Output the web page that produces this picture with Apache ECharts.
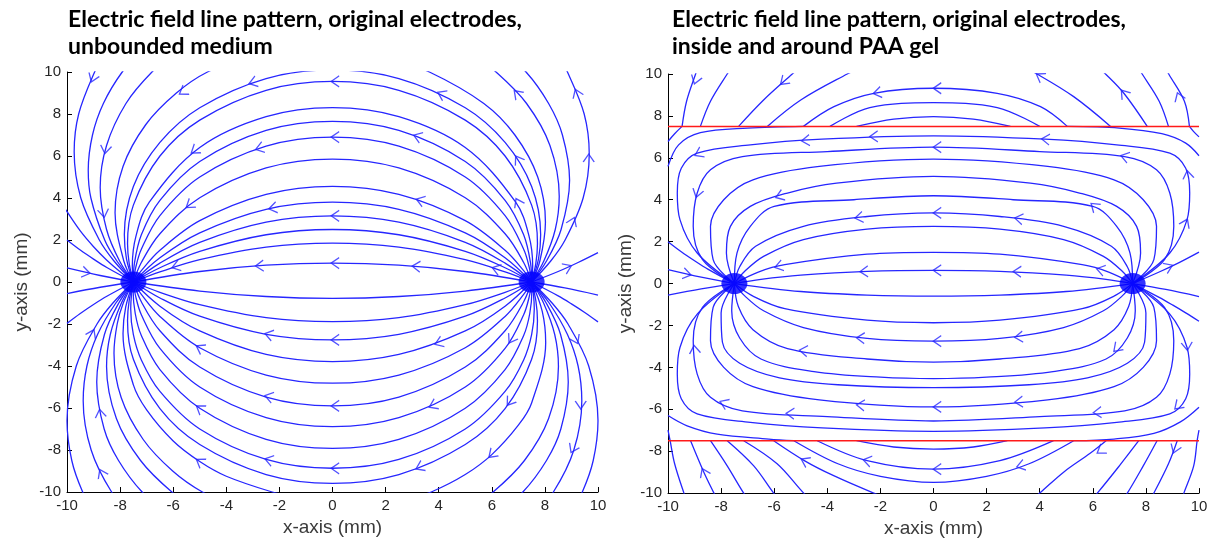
<!DOCTYPE html>
<html>
<head>
<meta charset="utf-8">
<script src="https://cdn.jsdelivr.net/npm/echarts/dist/echarts.min.js"></script>
<style>html,body{margin:0;padding:0;background:#fff;}#c{width:1211px;height:543px;}</style>
</head>
<body>
<div id="c"></div>
<script>
// ---------- DATA ----------
const tickValues = [-10, -8, -6, -4, -2, 0, 2, 4, 6, 8, 10];
const titles = [
  'Electric field line pattern, original electrodes,\nunbounded medium',
  'Electric field line pattern, original electrodes,\ninside and around PAA gel'
];
const electrodes = [[-7.5, 0], [7.5, 0]];
const gelBoundaryY = [7.5, -7.5];

// Left panel: field lines above the electrode axis, between the electrodes
const leftUpperArcs = [
  [[-7.5,0],[-5,0.5],[-2.5,0.8],[0,0.9],[2.5,0.8],[5,0.5],[7.5,0]],
  [[-7.5,0],[-6.5,0.48],[-5,1.06],[-2.5,1.66],[0,1.85],[2.5,1.66],[5,1.06],[6.5,0.48],[7.5,0]],
  [[-7.5,0],[-6.5,0.68],[-5,1.46],[-2.5,2.25],[0,2.5],[2.5,2.25],[5,1.46],[6.5,0.68],[7.5,0]],
  [[-7.5,0],[-6.5,0.9],[-5,1.89],[-2.5,2.85],[0,3.15],[2.5,2.85],[5,1.89],[6.5,0.9],[7.5,0]],
  [[-7.5,0],[-6.5,1.15],[-5,2.34],[-2.5,3.46],[0,3.8],[2.5,3.46],[5,2.34],[6.5,1.15],[7.5,0]],
  [[-7.5,0],[-7.2,0.54],[-6.5,1.51],[-5,2.92],[-2.5,4.17],[0,4.55],[2.5,4.17],[5,2.92],[6.5,1.51],[7.2,0.54],[7.5,0]],
  [[-7.5,0],[-7.2,0.93],[-6.5,2.3],[-5,4.01],[-2.5,5.43],[0,5.85],[2.5,5.43],[5,4.01],[6.5,2.3],[7.2,0.93],[7.5,0]],
  [[-7.5,0],[-7.41,0.7],[-7.2,1.56],[-6.5,3.16],[-5,5.0],[-2.5,6.47],[0,6.9],[2.5,6.47],[5,5.0],[6.5,3.16],[7.2,1.56],[7.41,0.7],[7.5,0]],
  [[-7.5,0],[-7.46,0.9],[-7.2,2.25],[-6.5,3.89],[-5,5.74],[-2.5,7.22],[0,7.65],[2.5,7.22],[5,5.74],[6.5,3.89],[7.2,2.25],[7.46,0.9],[7.5,0]],
  [[-7.5,0],[-7.54,0.76],[-7.4,2.2],[-6.9,3.8],[-5,6.4],[-2.5,7.87],[0,8.3],[2.5,7.87],[5,6.4],[6.9,3.8],[7.4,2.2],[7.54,0.76],[7.5,0]],
  [[-7.5,0],[-7.66,0.9],[-7.72,1.83],[-7.5,3.66],[-6.5,6.0],[-5,7.71],[-2.5,9.13],[0,9.55],[2.5,9.13],[5,7.71],[6.5,6.0],[7.5,3.66],[7.72,1.83],[7.66,0.9],[7.5,0]],
  [[-7.5,0],[-7.76,1.1],[-7.84,2.26],[-7.5,4.55],[-6.5,6.65],[-5,8.3],[-2.5,9.69],[0,10.1],[2.5,9.69],[5,8.3],[6.5,6.65],[7.5,4.55],[7.84,2.26],[7.76,1.1],[7.5,0]]
];
// Left panel: field lines below the electrode axis, between the electrodes
const leftLowerArcs = [
  [[-7.5,0],[-5,-0.43],[-2.5,-0.69],[0,-0.78],[2.5,-0.69],[5,-0.43],[7.5,0]],
  [[-7.5,0],[-6.5,-0.49],[-5,-1.08],[-2.5,-1.7],[0,-1.89],[2.5,-1.7],[5,-1.08],[6.5,-0.49],[7.5,0]],
  [[-7.5,0],[-6.5,-0.76],[-5,-1.63],[-2.5,-2.49],[0,-2.76],[2.5,-2.49],[5,-1.63],[6.5,-0.76],[7.5,0]],
  [[-7.5,0],[-6.5,-1.15],[-5,-2.33],[-2.5,-3.45],[0,-3.79],[2.5,-3.45],[5,-2.33],[6.5,-1.15],[7.5,0]],
  [[-7.5,0],[-7.2,-0.59],[-6.5,-1.64],[-5,-3.13],[-2.5,-4.43],[0,-4.82],[2.5,-4.43],[5,-3.13],[6.5,-1.64],[7.2,-0.59],[7.5,0]],
  [[-7.5,0],[-7.2,-0.94],[-6.5,-2.32],[-5,-4.05],[-2.5,-5.48],[0,-5.9],[2.5,-5.48],[5,-4.05],[6.5,-2.32],[7.2,-0.94],[7.5,0]],
  [[-7.5,0],[-7.41,-0.7],[-7.2,-1.56],[-6.5,-3.16],[-5,-5.0],[-2.5,-6.46],[0,-6.89],[2.5,-6.46],[5,-5.0],[6.5,-3.16],[7.2,-1.56],[7.41,-0.7],[7.5,0]],
  [[-7.5,0],[-7.51,-0.41],[-7.43,-1.5],[-7.2,-2.55],[-6.5,-4.17],[-5,-6.01],[-2.5,-7.49],[0,-7.92],[2.5,-7.49],[5,-6.01],[6.5,-4.17],[7.2,-2.55],[7.43,-1.5],[7.51,-0.41],[7.5,0]],
  [[-7.5,0],[-7.57,-0.6],[-7.6,-1.27],[-7.5,-2.51],[-7.2,-3.71],[-6.5,-5.21],[-5,-7.0],[-2.5,-8.45],[0,-8.87],[2.5,-8.45],[5,-7.0],[6.5,-5.21],[7.2,-3.71],[7.5,-2.51],[7.6,-1.27],[7.57,-0.6],[7.5,0]],
  [[-7.5,0],[-7.66,-0.9],[-7.72,-1.84],[-7.5,-3.68],[-6.5,-6.03],[-5,-7.74],[-2.5,-9.17],[0,-9.59],[2.5,-9.17],[5,-7.74],[6.5,-6.03],[7.5,-3.68],[7.72,-1.84],[7.66,-0.9],[7.5,0]]
];
// Left panel: lines leaving the electrodes towards the plot edges
const leftOuterLines = [
  [[-7.5,0],[-8.23,1],[-8.78,2],[-9.48,4],[-9.73,6.2],[-9.56,8],[-8.96,10],[-8.6,10.8]],
  [[-7.5,0],[-8.12,1],[-8.58,2],[-9.1,4],[-9.2,5.32],[-9.04,7],[-8.63,8.5],[-7.92,10],[-7.3,10.8]],
  [[-7.5,0],[-8.02,1],[-8.51,2.5],[-8.75,4.5],[-8.51,6.5],[-7.78,8.5],[-6.8,10],[-5.85,11]],
  [[-7.5,0],[-7.86,1],[-8.19,3.3],[-7.89,5.5],[-7.03,7.5],[-5.88,9],[-4.71,10],[-2.72,11]],
  [[-7.5,0],[-8,0.49],[-8.5,1.04],[-9,1.68],[-9.5,2.43],[-10,3.35],[-10.3,3.95]],
  [[-7.5,0],[-8.5,0.69],[-9,1.09],[-9.5,1.52],[-10,2.0]],
  [[-7.5,0],[-8.75,0.31],[-10,0.67]],
  [[7.5,0],[7.81,1],[8.02,2.85],[7.73,5],[6.87,7],[5.7,8.5],[3.65,10],[2.2,10.6]],
  [[7.5,0],[7.96,1],[8.39,2.5],[8.54,4.08],[8.19,6.5],[7.31,8.5],[6.16,10],[5.2,10.9]],
  [[7.5,0],[8.06,1],[8.61,2.5],[8.93,4.84],[8.66,7],[8.14,8.5],[7.29,10],[6.5,10.8]],
  [[7.5,0],[8.22,1],[8.76,2],[9.44,4],[9.67,6.1],[9.48,8],[8.85,10],[8.5,10.8]],
  [[7.5,0],[8.5,0.5],[9.25,0.93],[10,1.4]],
  [[-7.5,0],[-8.75,-0.25],[-10,-0.55]],
  [[-7.5,0],[-8.5,-0.68],[-9,-1.07],[-9.5,-1.5],[-10,-1.97]],
  [[7.5,0],[8.75,-0.28],[10,-0.62]],
  [[7.5,0],[8.5,-0.66],[9,-1.04],[9.5,-1.45],[10,-1.9]],
  [[-7.5,0],[-8.27,-1],[-8.87,-2],[-9.65,-4],[-10,-6.61],[-9.82,-8.5],[-9.41,-10],[-9.1,-10.6]],
  [[-7.5,0],[-8.16,-1],[-8.85,-2.5],[-9.25,-4],[-9.39,-5.65],[-9.09,-8],[-8.32,-10],[-7.8,-10.6]],
  [[-7.5,0],[-8.05,-1],[-8.59,-2.5],[-8.88,-4.76],[-8.6,-7],[-8.06,-8.5],[-7.17,-10],[-6.5,-10.6]],
  [[-7.5,0],[-7.95,-1],[-8.37,-2.5],[-8.51,-4.02],[-8.14,-6.5],[-7.23,-8.5],[-6.05,-10],[-5.2,-10.7]],
  [[-7.5,0],[-7.88,-1],[-8.11,-2],[-8.23,-3.39],[-7.96,-5.5],[-7.13,-7.5],[-6.02,-9],[-4.9,-10],[-3.5,-10.8]],
  [[7.5,0],[8.27,-1],[8.87,-2],[9.65,-4],[10,-6.61],[9.82,-8.5],[9.41,-10],[9.1,-10.6]],
  [[7.5,0],[8.16,-1],[8.85,-2.5],[9.25,-4],[9.39,-5.65],[9.09,-8],[8.32,-10],[7.8,-10.6]],
  [[7.5,0],[8.05,-1],[8.59,-2.5],[8.88,-4.76],[8.6,-7],[8.06,-8.5],[7.17,-10],[6.5,-10.6]],
  [[7.5,0],[7.95,-1],[8.37,-2.5],[8.51,-4.02],[8.14,-6.5],[7.23,-8.5],[6.05,-10],[5.2,-10.7]],
  [[-7.5,0],[-7.79,-1.2],[-7.89,-2.45],[-7.5,-4.9],[-7,-6.09],[-6,-7.57],[-5,-8.55],[-4,-9.25],[-2.27,-10],[-1.5,-10.2]],
  [[7.5,0],[7.9,-1.4],[8.03,-2.88],[7.5,-5.76],[7,-6.82],[6,-8.22],[5,-9.17],[3.72,-10],[3,-10.25]]
];
// Left panel arrowheads: [x, y, direction in degrees on screen]
const leftArrows = [
  [-3.0,9.5,198],[0.1,9.55,180],[4.1,8.95,154],[-9.03,9.7,249],[-8.55,6.3,261],[-8.62,3.27,279],
  [-5.64,9.05,214],[-5.2,6.25,217],[-5.39,3.66,217],[-5.9,0.74,197],[-2.75,6.37,197],[-2.25,3.52,191],
  [-2.75,0.77,183],[-9.28,0.45,348],[3.2,6.93,160],[0.1,6.9,180],[3.3,3.89,161],[0.1,3.15,180],
  [3.15,0.74,176],[0.1,0.9,180],[6.16,0.63,162],[6.98,5.84,123],[6.98,3.8,117],[6.95,8.98,134],
  [9.2,9.0,112],[9.65,5.9,90],[9.05,2.89,67],[8.86,0.7,24],
  [-9.05,-2.44,64],[-8.75,-6.25,99],[-8.7,-9.1,116],[-5.0,-3.13,150],[-5.0,-6.01,145],[-5.0,-8.55,146],
  [-2.4,-2.5,165],[-2.4,-5.46,165],[-2.4,-8.47,164],[0.1,-2.76,180],[4.0,-2.9,201],[0.1,-5.9,180],
  [3.78,-5.88,205],[0.1,-8.87,180],[3.28,-8.82,205],[6.0,-8.22,223],[6.73,-2.74,238],[6.67,-5.72,234],
  [9.17,-2.76,296],[9.35,-5.86,270],[9.05,-7.95,244]
];

// Right panel: lines inside the gel (|y| < 7.5)
const rightInsideArcs = [
  [[-7.5,0],[-6.5,0.2],[-5,0.4],[-2.5,0.58],[0,0.63],[2.5,0.58],[5,0.4],[6.5,0.2],[7.5,0]],
  [[-7.5,0],[-6.6,0.55],[-5.6,0.9],[-2.5,1.4],[0,1.49],[2.5,1.4],[5.6,0.9],[6.6,0.55],[7.5,0]],
  [[-7.5,0],[-7.1,0.6],[-6.4,1.3],[-4.9,2.1],[-2.5,2.6],[0,2.73],[2.5,2.6],[4.9,2.1],[6.4,1.3],[7.1,0.6],[7.5,0]],
  [[-7.5,0],[-7.3,0.8],[-6.7,1.78],[-4.9,2.73],[-2.5,3.2],[0,3.37],[2.5,3.2],[4.9,2.73],[6.7,1.78],[7.3,0.8],[7.5,0]],
  [[-7.5,0],[-7.4,1.46],[-6.9,2.73],[-6.0,3.68],[-3,4.0],[0,4.19],[3,4.0],[6.0,3.68],[6.9,2.73],[7.4,1.46],[7.5,0]],
  [[-7.5,0],[-7.8,1.46],[-7.65,2.73],[-6.9,3.68],[-5.5,4.32],[-3.65,4.79],[0,5.11],[3.65,4.79],[5.5,4.32],[6.9,3.68],[7.65,2.73],[7.8,1.46],[7.5,0]],
  [[-7.5,0],[-8.3,1.14],[-8.4,2.73],[-7.9,4.0],[-6.8,4.95],[-4.3,5.59],[0,5.94],[4.3,5.59],[6.8,4.95],[7.9,4.0],[8.4,2.73],[8.3,1.14],[7.5,0]],
  [[-7.5,0],[-8.7,1.14],[-9.05,2.73],[-8.9,4.32],[-8.4,5.43],[-7.2,6.06],[-4,6.3],[0,6.51],[4,6.3],[7.2,6.06],[8.4,5.43],[8.9,4.32],[9.05,2.73],[8.7,1.14],[7.5,0]],
  [[-7.5,0],[-8.9,1.46],[-9.55,3.05],[-9.65,4.32],[-9.5,5.5],[-8.9,6.22],[-6.9,6.62],[-4.2,6.89],[0,7.05],[4.2,6.89],[6.9,6.62],[8.9,6.22],[9.5,5.5],[9.65,4.32],[9.55,3.05],[8.9,1.46],[7.5,0]],
  [[-7.5,0],[-5,-0.38],[-2.5,-0.55],[0,-0.6],[2.5,-0.55],[5,-0.38],[7.5,0]],
  [[-7.5,0],[-6.8,-0.6],[-5.6,-1.2],[-2.5,-1.75],[0,-1.87],[2.5,-1.75],[5.6,-1.2],[6.8,-0.6],[7.5,0]],
  [[-7.5,0],[-7.1,-0.6],[-6.4,-1.3],[-4.9,-2.1],[-2.5,-2.62],[0,-2.75],[2.5,-2.62],[4.9,-2.1],[6.4,-1.3],[7.1,-0.6],[7.5,0]],
  [[-7.5,0],[-7.35,-1.1],[-6.8,-2.2],[-5.5,-3.1],[-2.5,-3.6],[0,-3.75],[2.5,-3.6],[5.5,-3.1],[6.8,-2.2],[7.35,-1.1],[7.5,0]],
  [[-7.5,0],[-7.6,-1.3],[-7.3,-2.6],[-6.5,-3.6],[-4.5,-4.2],[-2,-4.47],[0,-4.54],[2,-4.47],[4.5,-4.2],[6.5,-3.6],[7.3,-2.6],[7.6,-1.3],[7.5,0]],
  [[-7.5,0],[-8.0,-1.4],[-7.95,-2.8],[-7.3,-3.8],[-5.8,-4.5],[-3.6,-4.83],[0,-4.97],[3.6,-4.83],[5.8,-4.5],[7.3,-3.8],[7.95,-2.8],[8.0,-1.4],[7.5,0]],
  [[-7.5,0],[-8.3,-1.14],[-8.4,-2.73],[-7.9,-4.0],[-6.8,-4.92],[-4.3,-5.55],[0,-5.89],[4.3,-5.55],[6.8,-4.92],[7.9,-4.0],[8.4,-2.73],[8.3,-1.14],[7.5,0]],
  [[-7.5,0],[-8.7,-1.14],[-9.05,-2.73],[-8.9,-4.32],[-8.4,-5.43],[-7.2,-6.08],[-4,-6.35],[0,-6.56],[4,-6.35],[7.2,-6.08],[8.4,-5.43],[8.9,-4.32],[9.05,-2.73],[8.7,-1.14],[7.5,0]],
  [[-7.5,0],[-8.9,-1.46],[-9.55,-3.05],[-9.65,-4.32],[-9.5,-5.5],[-8.9,-6.22],[-6.9,-6.62],[-4.2,-6.89],[0,-7.05],[4.2,-6.89],[6.9,-6.62],[8.9,-6.22],[9.5,-5.5],[9.65,-4.32],[9.55,-3.05],[8.9,-1.46],[7.5,0]],
  [[-7.5,0],[-8.5,0.69],[-9,1.09],[-9.5,1.52],[-10,2.0]],
  [[-7.5,0],[-8.75,0.31],[-10,0.67]],
  [[-7.5,0],[-8.75,-0.25],[-10,-0.55]],
  [[7.5,0],[8.5,0.55],[9.25,1.0],[10,1.5]],
  [[7.5,0],[8.75,-0.28],[10,-0.62]],
  [[7.5,0],[8.5,-0.66],[9,-1.02],[9.5,-1.4],[10,-1.8]],
  [[-10,5.59],[-9.6,6.62],[-8.78,7.2],[-7,7.42],[-4.9,7.5]],
  [[5.04,7.5],[7,7.42],[8.6,7.15],[9.5,6.7],[10,6.1]],
  [[-10,6.78],[-9.75,7.15],[-9.47,7.5]],
  [[10,7.0],[9.8,7.25],[9.64,7.5]],
  [[-10,-6.3],[-9.28,-6.79],[-8.15,-7.19],[-6.2,-7.42],[-5.26,-7.5]],
  [[5.28,-7.5],[6.8,-7.42],[8.3,-7.15],[9.3,-6.6],[10,-5.9]]
];
// Right panel: lines outside the gel (|y| > 7.5)
const rightOutsideLines = [
  [[-4.9,7.5],[-3.75,8.44],[-2.25,9.08],[0,9.32],[2.4,9.08],[4.03,8.44],[5.04,7.5]],
  [[-3.9,7.5],[-2.4,8.4],[0,8.63],[2.4,8.4],[4.0,7.5]],
  [[-2.9,7.5],[-1.5,7.85],[0,7.97],[1.5,7.85],[2.9,7.5]],
  [[-9.47,7.5],[-9.3,8.7],[-8.96,10],[-8.85,10.4]],
  [[-8.78,7.5],[-8.4,8.7],[-7.77,10],[-7.6,10.3]],
  [[-7.34,7.5],[-6.4,8.76],[-5.32,10],[-5.05,10.3]],
  [[-6.26,7.5],[-5.0,8.76],[-3.25,10],[-2.8,10.25]],
  [[9.64,7.5],[9.45,8.7],[8.86,10],[8.7,10.4]],
  [[8.85,7.5],[8.5,8.7],[7.86,10],[7.7,10.3]],
  [[8.05,7.5],[7.17,9.08],[6.48,10],[6.2,10.3]],
  [[6.67,7.5],[5.28,8.92],[3.9,10],[3.4,10.3]],
  [[-2.9,-7.5],[-1.5,-7.8],[0,-7.9],[1.5,-7.8],[2.78,-7.5]],
  [[-4.38,-7.5],[-2.5,-8.45],[0,-8.86],[2.5,-8.45],[4.52,-7.5]],
  [[-5.26,-7.5],[-3.6,-8.6],[-2,-9.2],[0,-9.49],[2,-9.2],[3.6,-8.6],[5.28,-7.5]],
  [[-10,-7.0],[-9.92,-7.5],[-9.75,-8.6],[-9.4,-10],[-9.3,-10.3]],
  [[-9.15,-7.5],[-8.65,-9.0],[-8.27,-10],[-8.15,-10.3]],
  [[-8.4,-7.5],[-7.77,-8.7],[-7.15,-10],[-6.95,-10.3]],
  [[-7.77,-7.5],[-6.77,-8.7],[-6.02,-10],[-5.8,-10.3]],
  [[-7.15,-7.5],[-5.89,-8.6],[-4.89,-10],[-4.6,-10.3]],
  [[-6.02,-7.5],[-4.85,-8.46],[-3.76,-9.17],[-2.25,-10],[-1.7,-10.25]],
  [[6.5,-7.5],[5.9,-8.1],[4.9,-9.0],[4.0,-10],[3.7,-10.3]],
  [[7.73,-7.5],[7.0,-8.7],[6.17,-10],[5.9,-10.35]],
  [[8.42,-7.5],[7.9,-8.7],[7.3,-10],[7.1,-10.3]],
  [[9.18,-7.5],[8.85,-8.6],[8.3,-10],[8.15,-10.3]],
  [[10,-7.0],[9.93,-7.5],[9.8,-8.7],[9.43,-10],[9.35,-10.3]]
];
// Right panel arrowheads: [x, y, direction in degrees on screen]
const rightArrows = [
  [-8.96,9.71,252],[-5.65,9.63,222],[-2.12,9.1,191],[-8.85,6.2,206],[-8.9,4.3,254],[-4.82,6.83,185],
  [-5.8,4.17,200],[-2.81,3.15,189],[-5.83,0.82,195],[-2.62,0.57,182],[-9.28,0.45,348],[-2.25,7.02,181],
  [0.14,9.32,180],[4.0,9.9,148],[7.17,9.08,129],[9.24,8.92,111],[4.22,6.89,175],[7.2,6.06,164],
  [9.58,5.2,99],[9.5,2.9,65],[6.05,3.7,140],[3.21,3.1,171],[0.14,3.37,180],[0.14,6.51,180],
  [0.14,0.63,180],[3.15,0.57,178],[6.29,0.66,165],[8.86,0.8,24],
  [-9.0,-3.14,97],[-7.9,-5.7,157],[-5.4,-6.2,177],[-2.75,-5.8,175],[-4.9,-3.2,173],[-2.75,-2.6,177],
  [-8.65,-9.0,115],[-4.85,-8.46,153],[-2.5,-8.45,167],[0.14,-2.75,180],[3.21,-2.55,185],[6.9,-3.1,225],
  [0.14,-5.89,180],[3.21,-5.65,184],[6.17,-6.15,183],[9.55,-3.0,275],[9.2,-5.85,223],[6.29,-7.98,214],
  [9.09,-7.9,249],[3.28,-8.7,196],[0.14,-8.86,180]
];

// ---------- CHART ----------
const BLUE = '#2626ff';
const AXIS_FONT = 'Liberation Sans, Arial, sans-serif';
const chart = echarts.init(document.getElementById('c'), null, {renderer: 'canvas'});

const grids = [
  {left: 67, top: 72, width: 531, height: 420},
  {left: 668, top: 74, width: 531, height: 420}
];
const titleLeft = [68, 672];

function makeX(i) {
  return {
    gridIndex: i, type: 'value',
    min: tickValues[0], max: tickValues[tickValues.length - 1], interval: tickValues[1] - tickValues[0],
    axisLine: {onZero: false, lineStyle: {color: '#000', width: 1}},
    axisTick: {inside: true, length: 5, lineStyle: {color: '#000'}},
    axisLabel: {color: '#262626', fontSize: 15, margin: 6, fontFamily: AXIS_FONT},
    splitLine: {show: false},
    name: 'x-axis (mm)', nameLocation: 'middle', nameGap: 25,
    nameTextStyle: {fontSize: 19, color: '#3a3a3a', fontFamily: AXIS_FONT}
  };
}
function makeY(i) {
  return {
    gridIndex: i, type: 'value',
    min: tickValues[0], max: tickValues[tickValues.length - 1], interval: tickValues[1] - tickValues[0],
    axisLine: {onZero: false, lineStyle: {color: '#000', width: 1}},
    axisTick: {inside: true, length: 5, lineStyle: {color: '#000'}},
    axisLabel: {color: '#262626', fontSize: 15, margin: 6, fontFamily: AXIS_FONT},
    splitLine: {show: false},
    name: 'y-axis (mm)', nameLocation: 'middle', nameGap: i === 0 ? 36 : 33, nameRotate: 90,
    nameTextStyle: {fontSize: 19, color: '#3a3a3a', fontFamily: AXIS_FONT}
  };
}

const series = [];
function addLines(lines, idx) {
  lines.forEach(function (pts) {
    series.push({
      type: 'line', xAxisIndex: idx, yAxisIndex: idx, data: pts,
      showSymbol: false, symbol: 'none', smooth: 0.35, clip: true, silent: true,
      lineStyle: {color: BLUE, width: 1.3}, z: 2
    });
  });
}
addLines(leftUpperArcs, 0);
addLines(leftLowerArcs, 0);
addLines(leftOuterLines, 0);
addLines(rightInsideArcs, 1);
addLines(rightOutsideLines, 1);

function addArrows(arr, idx) {
  series.push({
    type: 'scatter', xAxisIndex: idx, yAxisIndex: idx, data: arr, silent: true,
    symbol: 'path://M0,0L10,5L0,10', symbolSize: [8, 11],
    symbolRotate: function (v) { return v[2]; },
    itemStyle: {color: 'rgba(0,0,0,0)', borderColor: BLUE, borderWidth: 1.2},
    z: 3
  });
}
addArrows(leftArrows, 0);
addArrows(rightArrows, 1);

gelBoundaryY.forEach(function (y) {
  series.push({
    type: 'line', xAxisIndex: 1, yAxisIndex: 1,
    data: [[tickValues[0], y], [tickValues[tickValues.length - 1], y]],
    showSymbol: false, symbol: 'none', silent: true,
    lineStyle: {color: '#ff1a1a', width: 1.5}, z: 4
  });
});

[0, 1].forEach(function (idx) {
  series.push({
    type: 'scatter', xAxisIndex: idx, yAxisIndex: idx, data: electrodes, silent: true,
    symbol: 'circle', symbolSize: [26, 21], itemStyle: {color: '#0000ff'}, z: 5
  });
});

chart.setOption({
  animation: false,
  backgroundColor: '#fff',
  title: titles.map(function (t, i) {
    return {
      text: t, left: titleLeft[i], top: 6, padding: 0,
      textStyle: {fontFamily: 'Lato, sans-serif', fontWeight: 'bold', fontSize: 23, lineHeight: 27, color: '#000'}
    };
  }),
  grid: grids,
  xAxis: [makeX(0), makeX(1)],
  yAxis: [makeY(0), makeY(1)],
  series: series
});
</script>
</body>
</html>
